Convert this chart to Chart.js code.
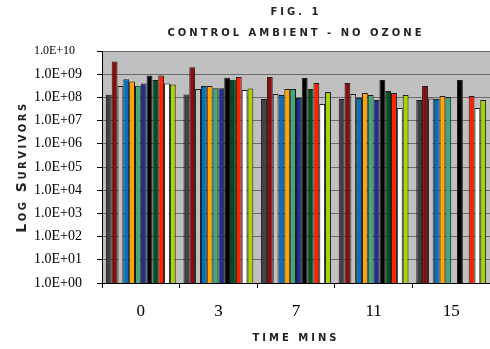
<!DOCTYPE html>
<html><head><meta charset="utf-8">
<script src="https://cdn.jsdelivr.net/npm/chart.js@4"></script>
<style>html,body{margin:0;padding:0;background:#fff}#wrap{width:490px;height:349px}</style>
</head><body><div id="wrap"><canvas id="c" width="490" height="349"></canvas></div>
<script>
// ---- data ----
const categories = ['0', '3', '7', '11', '15'];
const yTickValues = [1, 1e1, 1e2, 1e3, 1e4, 1e5, 1e6, 1e7, 1e8, 1e9, 1e10];
const seriesNames = ['Series 1','Series 2','Series 3','Series 4','Series 5','Series 6','Series 7','Series 8','Series 9','Series 10','Series 11','Series 12'];
const series1  = [1.3e8, 1.35e8, 8.5e7, 8.5e7, 7.7e7];
const series2  = [3.5e9, 2.0e9, 7.6e8, 4.2e8, 3.1e8];
const series3  = [3.1e8, 2.3e8, 1.4e8, 1.4e8, 9.0e7];
const series4  = [6.0e8, 3.1e8, 1.26e8, 9.4e7, 8.5e7];
const series5  = [4.9e8, 3.1e8, 2.3e8, 1.55e8, 1.15e8];
const series6  = [3.2e8, 2.5e8, 2.3e8, 1.26e8, 1.04e8];
const series7  = [4.0e8, 2.5e8, 9.4e7, 7.7e7, null];
const series8  = [8.7e8, 7.1e8, 6.9e8, 5.6e8, 5.6e8];
const series9  = [5.6e8, 5.8e8, 2.3e8, 1.9e8, null];
const series10 = [8.7e8, 7.6e8, 4.2e8, 1.55e8, 1.15e8];
const series11 = [4.0e8, 2.1e8, 5.2e7, 3.5e7, 3.5e7];
const series12 = [3.6e8, 2.4e8, 1.7e8, 1.26e8, 7.7e7];
const allSeries = [series1,series2,series3,series4,series5,series6,series7,series8,series9,series10,series11,series12];

// ---- styles ----
const seriesColors = ['#404040','#8B0A0A','#C0C0C0','#0070C0','#FFA500','#3DAA7A','#1F2F8F','#000000','#004D20','#FF2000','#FFFFFF','#A8D400'];

function wrap(obj, name, ls) {
  if (!obj || obj['_w_' + name]) return;
  const orig = obj[name];
  obj[name] = function (...args) {
    const ctx = this.ctx;
    const prev = ctx.letterSpacing;
    ctx.letterSpacing = ls;
    try { return orig.apply(this, args); } finally { ctx.letterSpacing = prev; }
  };
  obj['_w_' + name] = true;
}

const plotBg = {
  id: 'plotBg',
  beforeDraw(chart) {
    const ctx = chart.ctx, a = chart.chartArea;
    ctx.save();
    ctx.fillStyle = '#C0C0C0';
    ctx.fillRect(a.left, a.top, a.right - a.left, a.bottom - a.top);
    ctx.restore();
    wrap(chart.titleBlock, 'draw', '3px');
    wrap(chart.scales.x, 'drawTitle', '3px');
    wrap(chart.scales.y, 'drawTitle', '2.5px');
  }
};

function fmt(v) {
  const e = Math.round(Math.log10(v));
  return '1.0E+' + String(e).padStart(2, '0');
}

new Chart(document.getElementById('c'), {
  type: 'bar',
  data: {
    labels: categories,
    datasets: allSeries.map((d, i) => ({
      label: seriesNames[i],
      data: d,
      backgroundColor: seriesColors[i],
      borderColor: '#1a1a1a',
      borderWidth: 1,
      categoryPercentage: 0.9,
      barPercentage: 1.0
    }))
  },
  options: {
    responsive: false,
    animation: false,
    layout: { padding: { left: 34, top: 0, right: 0, bottom: 0 } },
    plugins: {
      legend: { display: false },
      tooltip: { enabled: false },
      title: {
        display: true,
        text: ['FIG. 1', 'CONTROL AMBIENT - NO OZONE'],
        fullSize: false,
        color: '#222',
        font: { family: 'DejaVu Sans', size: 10, weight: 'bold', lineHeight: 2.1 },
        padding: { top: 1.5, bottom: 7.5 }
      }
    },
    scales: {
      x: {
        ticks: { color: '#000', font: { family: 'Liberation Serif', size: 17 }, padding: 13, maxRotation: 0 },
        grid: { drawOnChartArea: false, offset: true, tickLength: 5, tickColor: '#000' },
        border: { color: '#000', width: 1 },
        title: { display: true, text: 'TIME MINS', color: '#222',
                 font: { family: 'DejaVu Sans', size: 10, weight: 'bold', lineHeight: 1.2 },
                 padding: { top: 0, bottom: 5 } },
        afterFit(s) { s.height = 66; }
      },
      y: {
        type: 'logarithmic',
        min: 1,
        max: 1e10,
        afterBuildTicks(s) { s.ticks = yTickValues.map(v => ({ value: v })); },
        ticks: {
          color: '#000',
          padding: 9,
          autoSkip: false,
          crossAlign: 'far',
          font: (c) => ({ family: 'Liberation Serif', size: (c.tick && c.tick.value === 1e10) ? 12 : 14 }),
          callback: (v) => fmt(v)
        },
        grid: { color: '#6a6a6a', lineWidth: 1, tickLength: 5, tickColor: '#000' },
        border: { color: '#000', width: 1 },
        title: { display: true, text: 'Log Survivors', color: '#222',
                 font: { family: 'DejaVu Sans', size: 14, weight: 'small-caps bold', lineHeight: 1.2 },
                 padding: { top: -20.4, bottom: 0 } },
        afterFit(s) { s.width = 68; }
      }
    }
  },
  plugins: [plotBg]
});
</script>
</body></html>
